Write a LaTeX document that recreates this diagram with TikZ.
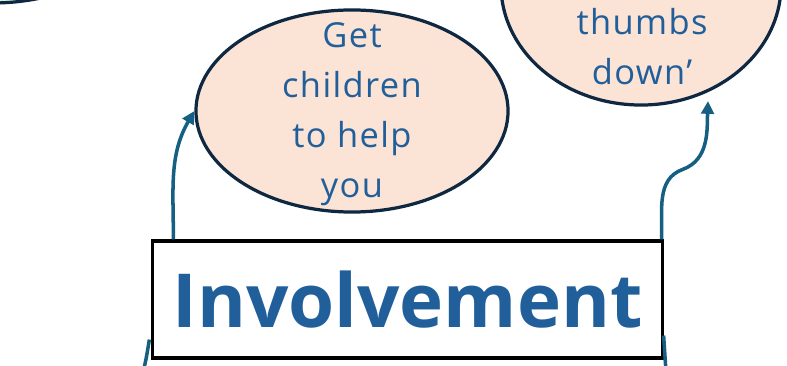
\documentclass[tikz,border=0pt]{standalone}
\usepackage{fontspec}
\setmainfont{Open Sans}
\newfontfamily\ideafont[LetterSpace=4]{Open Sans}
\usetikzlibrary{shapes.geometric,arrows.meta}

\definecolor{peach}{HTML}{FBE3D6}
\definecolor{mint}{HTML}{DAF2D0}
\definecolor{navy}{HTML}{0E2841}
\definecolor{txtblue}{HTML}{215F9A}
\definecolor{linkblue}{HTML}{156082}

\tikzset{
	idea/.style={shape=ellipse,draw=navy,line width=2.3pt,fill=peach,inner sep=0pt},
	ideatext/.style={text=txtblue,align=center,font=\ideafont\fontsize{24.5}{35.5}\selectfont},
	link/.style={draw=linkblue,line width=2.5pt},
	linkarrow/.style={link,-{Triangle[length=9pt,width=9pt]}}
}

\begin{document}
\begin{tikzpicture}[x=0.025cm,y=-0.025cm]
	\useasboundingbox (0,0) rectangle (787,366);
	\clip (0,0) rectangle (787,366);

	\node[idea,fill=mint,minimum width=7.8cm,minimum height=5.05cm] (topleft) at (-8,-98) {};
	\node[idea,minimum width=7.8cm,minimum height=5.05cm] (helpers) at (352,111) {};
	\node[ideatext] (helperstext) at (352,114) {Get\\children\\to help\\you};
	\node[idea,minimum width=7cm,minimum height=6cm] (thumbs) at (641,-15) {};
	\node[ideatext] (thumbstext) at (642,47) {thumbs\\down’};

	\node[draw=black,line width=2.2pt,fill=white,minimum width=12.725cm,minimum height=2.925cm,
		text=txtblue,font=\fontsize{53}{60}\selectfont\bfseries] (involve) at (407.5,299.5) {Involvement};

	\coordinate (thumbsend) at ([yshift=-0.225cm]thumbs.-58);
	\coordinate (lbot) at (143,372);
	\coordinate (rbot) at (666,372);

	\path[linkarrow] ([xshift=0.55cm]involve.north west) to[out=90,in=240] (helpers.west);
	\path[linkarrow] ([xshift=-0.05cm]involve.north east) to[out=88,in=200] ++(21,-70) to[out=20,in=268] (thumbsend);
	\path[link] ([xshift=-0.05cm,yshift=0.5cm]involve.south west) to[out=260,in=75] (lbot);
	\path[link] ([yshift=0.6cm]involve.south east) -- (rbot);

\end{tikzpicture}
\end{document}
